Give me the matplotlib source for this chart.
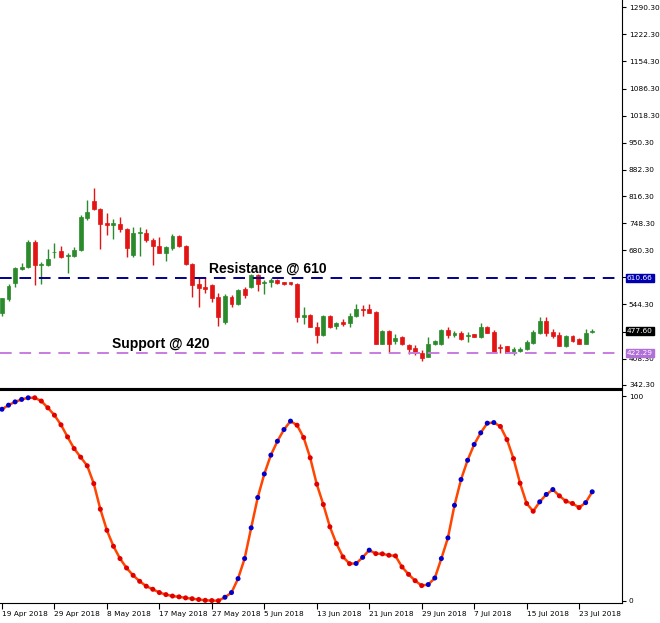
import matplotlib
matplotlib.use("Agg")
import matplotlib.pyplot as plt
import numpy as np

opens  = [522,557,599,633,638,702,643,643,675,679,667,666,681,761,805,784,750,745,746,733,669,724,725,706,691,674,685,716,691,646,595,587,593,564,501,564,546,582,589,618,598,602,606,600,600,597,514,518,489,468,515,
          490,501,498,515,532,534,525,446,478,453,462,442,434,423,413,445,445,480,467,474,465,469,463,488,476,438,440,423,428,432,448,474,503,476,467,440,465,457,446,476]
highs  = [560,595,639,648,705,705,652,683,699,691,673,688,768,807,836,786,773,758,765,737,740,738,735,710,714,691,721,718,693,648,610,614,597,572,570,568,583,589,622,621,606,610,608,602,602,599,539,520,501,518,518,
          501,507,524,545,542,545,528,480,480,471,465,444,442,430,462,455,482,487,478,477,476,470,497,491,480,445,440,438,438,455,480,512,512,482,476,467,467,461,484,484]
lows   = [515,553,589,631,636,593,597,640,662,662,624,664,679,756,781,683,719,708,727,663,664,666,702,643,673,654,681,689,644,562,537,574,551,490,496,539,544,560,585,577,571,589,597,592,594,501,495,487,448,466,486,
          482,490,487,512,515,522,445,445,423,445,442,420,417,403,413,443,443,461,462,455,451,462,461,472,426,423,423,417,426,430,446,471,465,460,440,438,451,444,445,474]
closes = [560,591,635,639,700,643,647,658,677,664,669,681,765,777,783,746,744,748,733,685,723,727,705,691,674,688,716,691,646,593,585,582,560,512,566,546,581,568,618,595,600,605,599,595,596,514,517,489,468,515,489,
          499,495,515,534,530,522,446,478,446,461,445,432,423,411,445,453,480,467,474,457,467,463,488,474,426,436,423,432,433,451,476,503,473,465,440,465,453,446,474,478]
osc = [93.6,95.6,97.2,98.4,99.2,99.2,97.6,94.3,90.7,86.0,80.1,74.4,70.2,66.0,57.3,44.8,34.5,26.7,20.7,16.1,12.5,9.6,7.2,5.7,4.1,3.1,2.4,2.0,1.5,1.1,0.7,0.3,0.2,0.1,
       1.8,4.1,10.9,20.7,35.7,50.5,62.0,71.2,78.0,83.7,87.8,85.8,79.8,69.9,57.0,47.1,36.2,
       28.0,21.5,18.2,18.3,21.3,24.8,23.1,23.0,22.3,22.0,16.6,13.0,9.9,7.5,8.0,11.2,20.7,30.8,46.7,59.3,68.7,76.4,82.1,86.8,87.1,85.2,78.8,69.5,57.5,47.6,43.8,48.4,52.0,54.4,51.3,48.7,47.6,45.6,48.0,53.3]
date_labels = ["19 Apr 2018","29 Apr 2018","8 May 2018","17 May 2018","27 May 2018","5 Jun 2018",
               "13 Jun 2018","21 Jun 2018","29 Jun 2018","7 Jul 2018","15 Jul 2018","23 Jul 2018"]
price_ticks = [1290.30,1222.30,1154.30,1086.30,1018.30,950.30,882.30,816.30,748.30,680.30,612.30,544.30,476.30,408.30,342.30]
hidden_ticks = [612.30, 476.30]
resistance = 610.66
support = 422.29
last_price = 477.60

W, H = 660, 623
fig = plt.figure(figsize=(W/100, H/100), dpi=100)
fig.patch.set_facecolor("white")
def px(l, t, r, b):
    return [l/W, 1-b/H, (r-l)/W, (b-t)/H]

FS = 5.3
R = 622
ax = fig.add_axes(px(0, 0, R, 388))
ax2 = fig.add_axes(px(0, 390, R, 603))
XMAX = 95 * 622 / 625
n = len(opens)
x = np.arange(n)
GREEN, RED = "#2b8a2b", "#e31414"
for i in range(n):
    c = GREEN if closes[i] >= opens[i] else RED
    ax.vlines(i, lows[i], highs[i], color=c, lw=1)
    lo, hi = min(opens[i], closes[i]), max(opens[i], closes[i])
    ax.bar(i, max(hi-lo, 1.5), bottom=lo, width=0.6, color=c, edgecolor=c, lw=0.5)
ax.axhline(resistance, color="#00008b", ls=(0, (6, 4)), lw=1.4)
ax.axhline(support, color="#c77ce0", ls=(0, (6, 4)), lw=1.4)
ax.text(31.5, resistance+6, "Resistance @ 610", fontsize=10, fontweight="bold", family="Liberation Sans", va="bottom")
ax.text(16.8, support+6, "Support @ 420", fontsize=10, fontweight="bold", family="Liberation Sans", va="bottom")
ax.set_xlim(-0.3, XMAX)
ax.set_ylim(334.7, 1308.6)
ax.yaxis.tick_right()
ax.set_yticks(price_ticks)
ax.set_yticklabels(["" if v in hidden_ticks else f"{v:.2f}" for v in price_ticks], fontsize=FS)
ax.set_xticks([])
for s in ["left", "top"]:
    ax.spines[s].set_visible(False)
ax.tick_params(axis="y", length=3, pad=2)
for val, col in [(resistance, "#0000b0"), (last_price, "black"), (support, "#b070d8")]:
    ax.text(1.008, (val-334.7)/(1308.6-334.7), f"{val:.2f}", transform=ax.transAxes, fontsize=FS,
            color="white", va="center", ha="left",
            bbox=dict(boxstyle="square,pad=0.15", fc=col, ec=col))

ax2.plot(x, osc, color="#ff4500", lw=1.8, zorder=1)
cols = ["#0000cc"] + ["#0000cc" if osc[i] > osc[i-1] else "#e00000" for i in range(1, n)]
ax2.scatter(x, osc, c=cols, s=13, zorder=2, linewidths=0)
ax2.set_xlim(-0.3, XMAX)
ax2.set_ylim(-1, 103)
ax2.yaxis.tick_right()
ax2.set_yticks([0, 100])
ax2.set_yticklabels(["0", "100"], fontsize=FS)
ax2.set_xticks(range(0, 8*len(date_labels), 8))
ax2.set_xticklabels(date_labels, fontsize=FS, ha="left")
ax2.tick_params(axis="x", length=4, pad=2)
ax2.tick_params(axis="y", length=3, pad=2)
ax2.spines["left"].set_visible(False)
ax2.spines["top"].set_linewidth(1.5)
fig.savefig("out.png", dpi=100)
